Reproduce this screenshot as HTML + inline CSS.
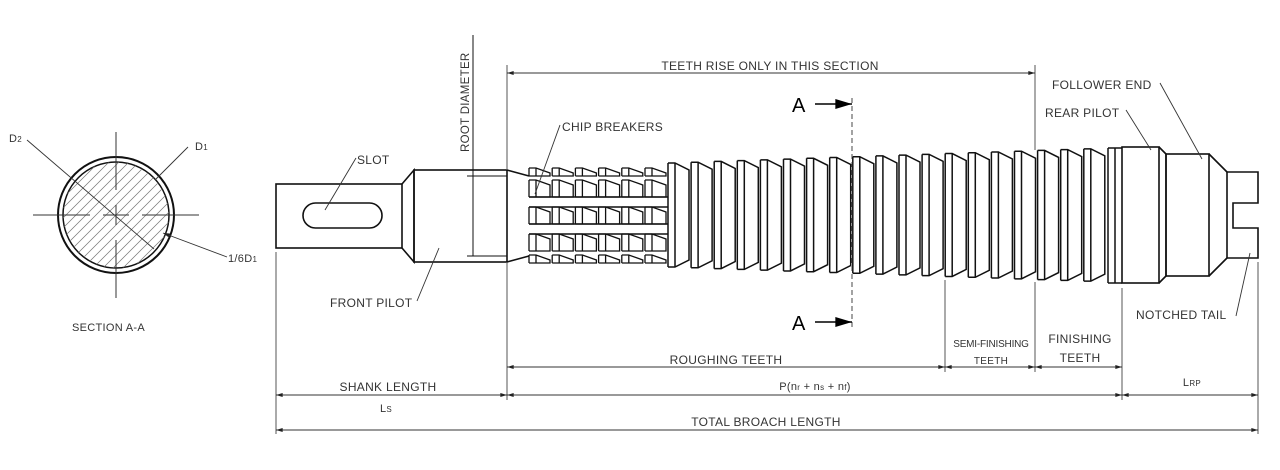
<!DOCTYPE html>
<html><head><meta charset="utf-8"><style>
html,body{margin:0;padding:0;background:#fff;width:1280px;height:470px;overflow:hidden}
svg{display:block}
text{font-family:"Liberation Sans",sans-serif;fill:#333;letter-spacing:0.3px}
</style></head><body>
<svg id="s" width="1280" height="470" viewBox="0 0 1280 470" font-size="12" xmlns="http://www.w3.org/2000/svg">
<defs>
<marker id="ar" viewBox="0 0 10 6" refX="10" refY="3" markerWidth="8" markerHeight="4" orient="auto-start-reverse" markerUnits="userSpaceOnUse"><path d="M0,0 L10,3 L0,6z" fill="#222"/></marker>
<marker id="big" viewBox="0 0 10 6" refX="10" refY="3" markerWidth="18" markerHeight="10" orient="auto" markerUnits="userSpaceOnUse"><path d="M0,0 L10,3 L0,6z" fill="#000"/></marker>
<clipPath id="cc"><circle cx="116" cy="215" r="53"/></clipPath>
</defs>
<!-- Section A-A -->
<g stroke="#111" fill="none">
<circle cx="116" cy="215" r="58" stroke-width="2"/>
<circle cx="116" cy="215" r="53" stroke-width="1.5"/>
<g clip-path="url(#cc)" stroke="#777" stroke-width="0.7" id="hatch"></g>
<g stroke="#333" stroke-width="1">
<line x1="116" y1="132" x2="116" y2="190"/><line x1="116" y1="205" x2="116" y2="225"/><line x1="116" y1="240" x2="116" y2="298"/>
<line x1="33" y1="215" x2="90" y2="215"/><line x1="103" y1="215" x2="129" y2="215"/><line x1="142" y1="215" x2="199" y2="215"/>
</g>
<line x1="27" y1="140" x2="154" y2="249" stroke="#333" stroke-width="0.9"/>
<line x1="188" y1="147" x2="155" y2="180" stroke="#333" stroke-width="0.9"/>
<line x1="227" y1="257" x2="163" y2="233" stroke="#333" stroke-width="0.9" marker-end="url(#ar)"/>
</g>
<text x="9" y="142" font-size="11">D<tspan font-size="8">2</tspan></text>
<text x="195" y="150" font-size="11">D<tspan font-size="8">1</tspan></text>
<text x="228" y="262" font-size="11">1/6D<tspan font-size="8">1</tspan></text>
<text x="72" y="331" font-size="11">SECTION A-A</text>

<!-- Broach body -->
<g stroke="#111" stroke-width="1.6" fill="none" id="body">
<rect x="276" y="184" width="126" height="64"/>
<rect x="303" y="203" width="79" height="25" rx="12.5"/>
<path d="M402,184 L414,170 L414,262 L402,248"/>
<rect x="414" y="170" width="93" height="92"/>
<path d="M507,170 L529,176 M507,262 L529,256"/>
<rect x="1122" y="147" width="37" height="136"/>
<path d="M1159,147 L1166,154 L1166,276 L1159,283"/>
<rect x="1166" y="154" width="43" height="122"/>
<path d="M1209,154 L1227,172 M1209,276 L1227,258"/>
<path d="M1227,172 L1258,172 L1258,203 L1233,203 L1233,228 L1258,228 L1258,258 L1227,258 Z"/>
</g>
<g stroke="#111" stroke-width="1" fill="none">
<line x1="473" y1="35" x2="473" y2="176"/>
<line x1="473" y1="176" x2="473" y2="256"/>
<line x1="467" y1="176" x2="507" y2="176"/><line x1="467" y1="256" x2="507" y2="256"/>
</g>
<text transform="translate(469,152) rotate(-90)" font-size="11.5">ROOT DIAMETER</text>

<!-- extension lines -->
<g stroke="#555" stroke-width="1" fill="none">
<line x1="507" y1="65" x2="507" y2="170"/><line x1="507" y1="262" x2="507" y2="400"/>
<line x1="1035" y1="65" x2="1035" y2="150"/><line x1="1035" y1="282" x2="1035" y2="372"/>
<line x1="945" y1="280" x2="945" y2="372"/>
<line x1="1122" y1="288" x2="1122" y2="400"/>
<line x1="276" y1="252" x2="276" y2="434"/>
<line x1="1258" y1="262" x2="1258" y2="434"/>
</g>
<g stroke="#333" stroke-width="1" fill="none">
<line x1="507" y1="73" x2="1035" y2="73" marker-start="url(#ar)" marker-end="url(#ar)"/>
<line x1="507" y1="367" x2="945" y2="367" marker-start="url(#ar)" marker-end="url(#ar)"/>
<line x1="945" y1="367" x2="1035" y2="367" marker-start="url(#ar)" marker-end="url(#ar)"/>
<line x1="1035" y1="367" x2="1122" y2="367" marker-start="url(#ar)" marker-end="url(#ar)"/>
<line x1="276" y1="395" x2="507" y2="395" marker-start="url(#ar)" marker-end="url(#ar)"/>
<line x1="507" y1="395" x2="1122" y2="395" marker-start="url(#ar)" marker-end="url(#ar)"/>
<line x1="1122" y1="395" x2="1258" y2="395" marker-start="url(#ar)" marker-end="url(#ar)"/>
<line x1="276" y1="430" x2="1258" y2="430" marker-start="url(#ar)" marker-end="url(#ar)"/>
<line x1="852" y1="98" x2="852" y2="330" stroke="#333" stroke-width="0.9" stroke-dasharray="5,3"/>
<line x1="815" y1="104" x2="852" y2="104" marker-end="url(#big)" stroke="#000" stroke-width="1.5"/>
<line x1="815" y1="322" x2="852" y2="322" marker-end="url(#big)" stroke="#000" stroke-width="1.5"/>
</g>
<text x="792" y="112" font-size="20" style="fill:#000">A</text>
<text x="792" y="330" font-size="20" style="fill:#000">A</text>
<text x="770" y="70" text-anchor="middle">TEETH RISE ONLY IN THIS SECTION</text>
<text x="726" y="364" text-anchor="middle">ROUGHING TEETH</text>
<text x="991" y="347" text-anchor="middle" font-size="10" style="letter-spacing:-0.2px">SEMI-FINISHING</text>
<text x="991" y="364" text-anchor="middle" font-size="10">TEETH</text>
<text x="1080" y="343" text-anchor="middle">FINISHING</text>
<text x="1080" y="362" text-anchor="middle">TEETH</text>
<text x="388" y="391" text-anchor="middle">SHANK LENGTH</text>
<text x="386" y="412" text-anchor="middle" font-size="11">L<tspan font-size="8">S</tspan></text>
<text x="815" y="390" text-anchor="middle" font-size="11">P(n<tspan font-size="8">r</tspan> + n<tspan font-size="8">s</tspan> + n<tspan font-size="8">f</tspan>)</text>
<text x="1192" y="386" text-anchor="middle" font-size="11">L<tspan font-size="8">RP</tspan></text>
<text x="766" y="426" text-anchor="middle">TOTAL BROACH LENGTH</text>

<!-- labels -->
<g stroke="#333" stroke-width="0.9" fill="none">
<line x1="356" y1="158" x2="325" y2="210"/>
<line x1="417" y1="301" x2="439" y2="248"/>
<line x1="560" y1="125" x2="535" y2="194"/>
<line x1="1160" y1="83" x2="1202" y2="159"/>
<line x1="1126" y1="110" x2="1151" y2="150"/>
<line x1="1236" y1="316" x2="1250" y2="253"/>
</g>
<text x="357" y="164">SLOT</text>
<text x="330" y="307">FRONT PILOT</text>
<text x="562" y="131">CHIP BREAKERS</text>
<text x="1052" y="89">FOLLOWER END</text>
<text x="1045" y="117">REAR PILOT</text>
<text x="1136" y="319">NOTCHED TAIL</text>
</svg>
<script>
var s=document.getElementById('body'),ns='http://www.w3.org/2000/svg';
function P(d,w){var p=document.createElementNS(ns,'path');p.setAttribute('d',d);if(w)p.setAttribute('stroke-width',w);s.appendChild(p);}
var h=document.getElementById('hatch');
for(var k=-160;k<160;k+=10){var l=document.createElementNS(ns,'line');l.setAttribute('x1',116+k-80);l.setAttribute('y1',295);l.setAttribute('x2',116+k+80);l.setAttribute('y2',135);h.appendChild(l);}
var cy=215;
var segs=[[168,176],[180,197],[207,224],[234,251],[255,263]];
for(var i=0;i<6;i++){var x=529+i*23.2;
 segs.forEach(function(g){var a=g[0],b=g[1];
  P('M'+x+','+a+' V'+b+' M'+(x+7)+','+a+' V'+b+' M'+x+','+a+' H'+(x+7)+' L'+(x+21)+','+(a+5)+' V'+b+' H'+x,1.3);});
}
P('M529,197 H668 M529,207 H668 M529,224 H668 M529,234 H668',1.6);
for(var i=0;i<19;i++){var x=668+i*23.1;var hh=52+(x-668)/440*15;var t=cy-hh,b=cy+hh;
 var nx=x+21;
 P('M'+x+','+t+' V'+b+' M'+(x+7)+','+t+' V'+b+' M'+x+','+t+' H'+(x+7)+' L'+nx+','+(t+7)+' V'+(b-7)+' L'+(x+7)+','+b+' H'+x,1.5);
}
P('M1108,148 V283 M1115,148 V283 M1108,148 H1122 M1108,283 H1122',1.5);
</script>
</body></html>
